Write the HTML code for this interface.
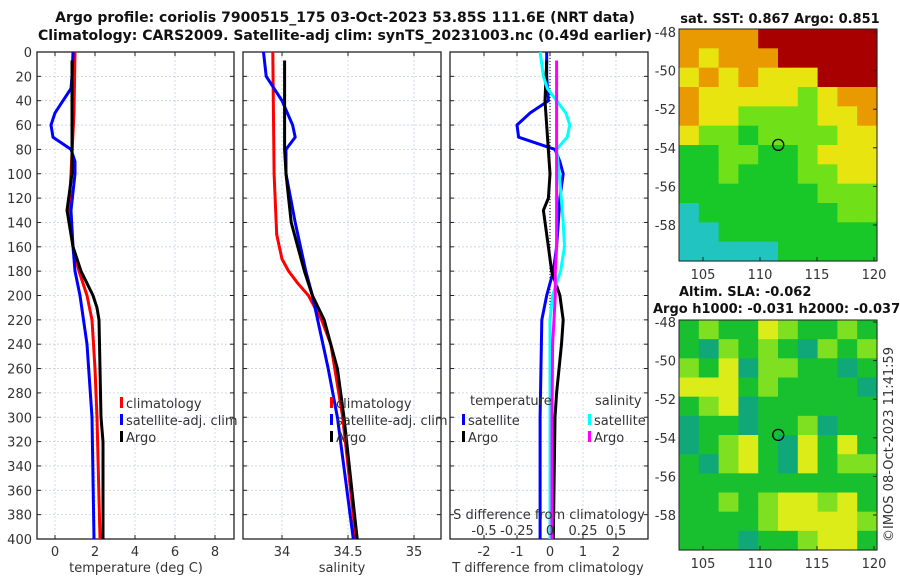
<!DOCTYPE html>
<html><head><meta charset="utf-8"><style>
body{margin:0;background:#fff;}
svg{display:block;font-family:"DejaVu Sans","Liberation Sans",sans-serif;}
.t{font-size:13px;fill:#333;}
.b{font-size:13px;font-weight:bold;fill:#111;}
.bt{font-size:14px;font-weight:bold;fill:#111;}
.g{stroke:#c8cde8;stroke-width:0.8;stroke-dasharray:2,2;}
</style></head><body>
<svg id="c" width="900" height="580" xmlns="http://www.w3.org/2000/svg">
<text class="bt" x="345" y="22" text-anchor="middle">Argo profile: coriolis 7900515_175 03-Oct-2023 53.85S 111.6E (NRT data)</text>
<text class="bt" x="345" y="40" text-anchor="middle">Climatology: CARS2009. Satellite-adj clim: synTS_20231003.nc (0.49d earlier)</text>
<text class="b" x="780" y="23" text-anchor="middle">sat. SST: 0.867 Argo: 0.851</text>
<text class="b" x="679" y="296">Altim. SLA: -0.062</text>
<text class="b" x="653" y="313">Argo h1000: -0.031 h2000: -0.037</text>
<text class="t" transform="translate(893,542) rotate(-90)">©IMOS 08-Oct-2023 11:41:59</text>
<g id="layer"></g>
</svg>
<script>
// ---- data ----
const depthTicks=[0,20,40,60,80,100,120,140,160,180,200,220,240,260,280,300,320,340,360,380,400];
const tempTicks=[0,2,4,6,8];
const salTicks=[34,34.5,35];
const salTickLabels=["34","34.5","35"];
const tdTicks=[-2,-1,0,1,2];
const sdTickLabels=["-0.5","-0.25","0","0.25","0.5"];
const sdTicks=[-0.5,-0.25,0,0.25,0.5];

const climTD=[0,50,100,130,160,180,200,220,260,300,400];
const climT=[1.0,0.95,0.8,0.7,0.9,1.2,1.6,1.85,2.0,2.1,2.25];
const argoTD=[7,40,100,130,160,180,190,200,210,220,260,300,320,400];
const argoT=[0.85,0.85,0.85,0.6,0.9,1.3,1.6,1.9,2.1,2.2,2.25,2.3,2.4,2.4];
const satTD=[0,20,30,40,50,60,70,80,90,100,130,160,180,200,240,300,400];
const satT=[0.9,0.85,0.8,0.4,0.0,-0.2,-0.1,0.8,1.0,1.0,0.8,0.9,1.0,1.25,1.6,1.85,1.95];

const climSD=[0,100,150,170,180,190,200,220,240,300,400];
const climS=[33.93,33.94,33.96,34.0,34.05,34.12,34.2,34.3,34.37,34.46,34.56];
const argoSD=[7,80,100,140,160,180,200,220,260,300,400];
const argoS=[34.02,34.02,34.03,34.07,34.12,34.17,34.23,34.32,34.42,34.47,34.57];
const satSD=[0,20,40,60,70,80,100,140,180,200,260,300,400];
const satS=[33.86,33.88,34.0,34.08,34.1,34.03,34.03,34.1,34.18,34.23,34.35,34.42,34.54];

const dTD=[0,20,40,50,60,70,80,90,100,120,140,160,180,200,220,300,400];
const satTdiff=[-0.1,-0.1,-0.05,-0.6,-1.0,-0.95,0.15,0.3,0.4,0.3,0.25,0.2,0.1,-0.1,-0.25,-0.3,-0.3];
const argoTdD=[7,40,100,120,130,160,180,200,220,240,280,300,400];
const argoTdiff=[-0.1,-0.15,0.0,-0.05,-0.2,-0.05,0.05,0.3,0.4,0.35,0.2,0.15,0.1];
const sdD=[0,20,30,40,50,60,70,80,100,140,160,180,200,220,300,400];
const satSdiff=[-0.075,-0.05,-0.02,0.05,0.12,0.15,0.13,0.05,0.07,0.1,0.11,0.08,0.02,0.0,0.0,0.0];
const argoSdD=[7,160,180,200,220,240,300,400];
const argoSdiff=[0.05,0.05,0.04,0.04,0.03,0.02,0.015,0.015];

const sstGrid=[
[4,4,4,4,5,5,5,5,5,5],[4,3,4,4,4,5,5,5,5,5],[3,4,3,4,3,3,3,5,5,5],[4,3,3,3,3,3,2,3,4,4],
[4,3,3,2,2,2,2,3,3,4],[3,2,2,1,2,2,2,2,3,3],[1,1,2,2,1,1,2,3,3,3],[1,1,2,1,1,1,2,2,3,3],
[1,1,1,1,1,1,1,2,2,2],[0,1,1,1,1,1,1,1,2,2],[0,0,1,1,1,1,1,1,1,1],[0,0,0,0,0,1,1,1,1,1]];
const slaGrid=[
[1,2,1,1,3,2,1,1,2,1],[1,0,2,1,2,1,0,2,1,2],[2,1,3,0,2,2,1,1,0,1],[3,3,3,1,2,1,1,1,1,0],
[1,2,3,0,1,1,1,1,1,1],[0,1,1,0,1,1,2,0,1,1],[0,1,2,3,1,0,3,1,3,1],[1,0,2,3,1,0,3,1,2,2],
[1,1,1,1,1,1,1,1,1,1],[1,1,2,1,2,3,3,2,3,1],[1,1,1,1,2,3,3,3,3,2],[1,1,1,0,1,1,2,3,3,1]];
const lonTicks=[105,110,115,120];
const latTicks=[-48,-50,-52,-54,-56,-58];
const argoLon=111.6, argoLat=-53.85;

// ---- helpers ----
const NS="http://www.w3.org/2000/svg";
const L=document.getElementById('layer');
function mk(tag,attrs,parent){const e=document.createElementNS(NS,tag);for(const k in attrs)e.setAttribute(k,attrs[k]);(parent||L).appendChild(e);return e;}
function lin(d0,d1,r0,r1){return v=>r0+(v-d0)*(r1-r0)/(d1-d0);}
const Y0=52,Y1=539;
const yD=lin(0,400,Y0,Y1);

function panel(x0,x1,xs,xt,xl,name,showY){
  const g=mk('g',{});
  
  
  depthTicks.forEach(d=>{const l=mk('line',{x1:x0,x2:x1,y1:yD(d),y2:yD(d),class:'g'},g);
    mk('line',{x1:x0,x2:x0+4,y1:yD(d),y2:yD(d),stroke:'#222'},g);mk('line',{x1:x1-4,x2:x1,y1:yD(d),y2:yD(d),stroke:'#222'},g);
    if(showY){const t=mk('text',{x:x0-5,y:yD(d)+5,class:'t','text-anchor':'end'},g);t.textContent=d;}});
  xt.forEach((v,i)=>{const x=xs(v);mk('line',{x1:x,x2:x,y1:Y0,y2:Y1,class:'g'},g);
    mk('line',{x1:x,x2:x,y1:Y1-4,y2:Y1,stroke:'#222'},g);mk('line',{x1:x,x2:x,y1:Y0,y2:Y0+4,stroke:'#222'},g);
    const t=mk('text',{x:x,y:556,class:'t','text-anchor':'middle'},g);t.textContent=xl[i];});
  const r=mk('rect',{x:x0,y:Y0,width:x1-x0,height:Y1-Y0,fill:'none',stroke:'#222','stroke-width':1.3},g);
  
  return g;
}
function line(xs,xv,dv,col,w,name,extra){
  const p=xv.map((v,i)=>xs(v).toFixed(1)+','+yD(dv[i]).toFixed(1)).join(' ');
  const e=mk('polyline',Object.assign({points:p,fill:'none',stroke:col,'stroke-width':w,'stroke-linejoin':'round'},extra||{}));
  
  
}
function txt(x,y,s,name,cls,anchor){const t=mk('text',{x:x,y:y,class:cls||'t','text-anchor':anchor||'start'});t.textContent=s;return t;}
function leg(x,y,col,s,name){const r=mk('rect',{x:x,y:y-9,width:3,height:11,fill:col});txt(x+6,y+2,s,name);}

// Panel 1: temperature
const xT=lin(0,2,55,95);
panel(37,234,xT,tempTicks,tempTicks.map(String),'temperature',true);
txt(136,572,'temperature (deg C)','temperature-axis-title','t','middle');
line(xT,climT,climTD,'#f00',3,'temp-climatology-line');
line(xT,satT,satTD,'#00f',3,'temp-satellite-line');
line(xT,argoT,argoTD,'#000',3,'temp-argo-line');
leg(120,406,'#f00','climatology','legend-climatology');
leg(120,423,'#00f','satellite-adj. clim','legend-satellite');
leg(120,440,'#000','Argo','legend-argo');

// Panel 2: salinity
const xS=lin(34,34.5,282,348);
panel(243,441,xS,salTicks,salTickLabels,'salinity',false);
txt(342,572,'salinity','salinity-axis-title','t','middle');
line(xS,climS,climSD,'#f00',3,'sal-climatology-line');
line(xS,satS,satSD,'#00f',3,'sal-satellite-line');
line(xS,argoS,argoSD,'#000',3,'sal-argo-line');
leg(330,406,'#f00','climatology','legend-sal-climatology');
leg(330,423,'#00f','satellite-adj. clim','legend-sal-satellite');
leg(330,440,'#000','Argo','legend-sal-argo');

// Panel 3: differences
const xTd=lin(0,1,550,583);
const xSd=v=>xTd(v*4);
panel(450,648,xTd,tdTicks,tdTicks.map(String),'difference',false);
line(xTd,[0,0],[0,400],'#000',1,'zero-reference-line',{'stroke-dasharray':'1,2'});
line(xTd,satTdiff,dTD,'#00f',3,'tdiff-satellite-line');
line(xTd,argoTdiff,argoTdD,'#000',3,'tdiff-argo-line');
line(xSd,satSdiff,sdD,'#0ff',3,'sdiff-satellite-line');
line(xSd,argoSdiff,argoSdD,'#f0f',3,'sdiff-argo-line');
txt(548,572,'T difference from climatology','tdiff-axis-title','t','middle');
txt(549,519,'S difference from climatology','sdiff-axis-title','t','middle');
sdTicks.forEach((v,i)=>txt(xSd(v),535,sdTickLabels[i],'sdiff-tick-label','t','middle'));
txt(470,405,'temperature','legend-temperature-header');
leg(462,423,'#00f','satellite','legend-tdiff-satellite');
leg(462,440,'#000','Argo','legend-tdiff-argo');
txt(595,405,'salinity','legend-salinity-header');
leg(588,423,'#0ff','satellite','legend-sdiff-satellite');
leg(588,440,'#f0f','Argo','legend-sdiff-argo');

// Maps
function map(grid,colors,top,bottom,name,latY0){
  const x0=679,x1=877;
  const rows=grid.length,cols=grid[0].length;
  const cw=(x1-x0)/cols,ch=(bottom-top)/rows;
  const g=mk('g',{});
  grid.forEach((row,r)=>row.forEach((v,c)=>{const e=mk('rect',{x:x0+c*cw,y:top+r*ch,width:cw+0.6,height:ch+0.6,fill:colors[v]},g);}));
  const xl=lin(105,120,703,874);
  const yl=lin(-48,-58,latY0,latY0+193);
  lonTicks.forEach(v=>{mk('line',{x1:xl(v),x2:xl(v),y1:bottom,y2:bottom-4,stroke:'#222'},g);txt(xl(v),bottom+18,String(v),'lon-tick-label','t','middle');});
  latTicks.forEach(v=>{mk('line',{x1:x1,x2:x1-4,y1:yl(v),y2:yl(v),stroke:'#222'},g);txt(x0-3,yl(v)+5,String(v),'lat-tick-label','t','end');});
  const c=mk('circle',{cx:xl(argoLon),cy:yl(argoLat),r:5.5,fill:'none',stroke:'#000','stroke-width':1.3},g);
  
  mk('rect',{x:x0,y:top,width:x1-x0,height:bottom-top,fill:'none',stroke:'#222'},g);
}
map(sstGrid,['#22c4c0','#18c828','#70e018','#e8e410','#e89a00','#a80000'],29,261,'sst-map',32);
map(slaGrid,['#10a878','#18c030','#7ee020','#dcec18'],320,550,'sla-map',322);
</script>
</body></html>
